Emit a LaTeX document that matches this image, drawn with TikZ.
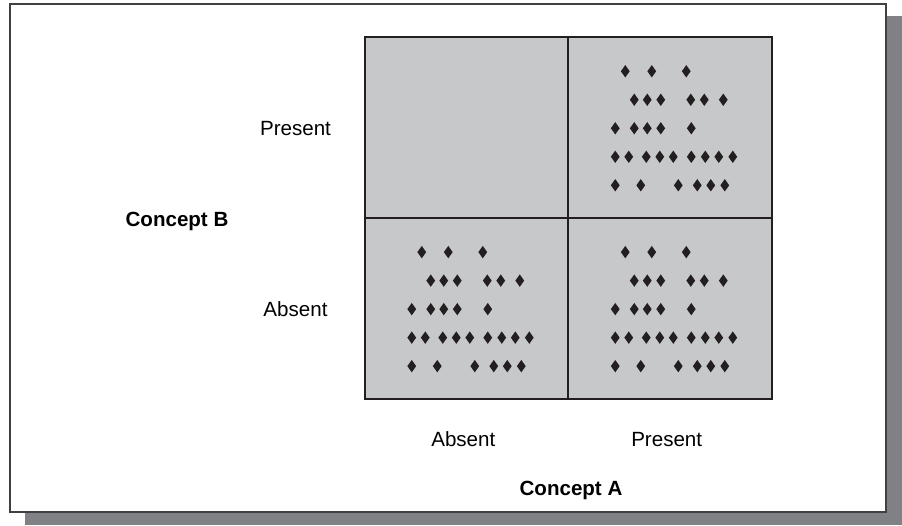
\documentclass[tikz,border=0pt]{standalone}
\usepackage{fontspec}
\setmainfont{Liberation Sans}
\usepackage{tikz}
\definecolor{cellgray}{RGB}{199,200,202}
\definecolor{shadowgray}{RGB}{128,129,133}
\definecolor{edge}{RGB}{35,31,32}

\begin{document}
\begin{tikzpicture}[
    cell/.style={draw=edge, line width=0.04cm, fill=cellgray, minimum width=4.07cm, minimum height=3.61cm, inner sep=0pt, outer sep=0pt},
    lbl/.style={font=\fontsize{11.7}{14}\selectfont, anchor=base, inner sep=0pt},
    head/.style={lbl, font=\fontsize{11.7}{14}\selectfont\bfseries},
    gem/.style={fill=edge}]
    \useasboundingbox (0,0) rectangle (18.04,-10.5);
    \fill[shadowgray] (0.5,-0.32) rectangle (18.04,-10.5);
    \draw[black!75, line width=0.04cm, fill=white] (0.2,-0.08) rectangle (17.72,-10.24);
    \node[cell] at (9.33,-2.55) (ap) {};
    \node[cell] at (13.40,-2.55) (pp) {};
    \node[cell] at (9.33,-6.167) (aa) {};
    \node[cell] at (13.40,-6.167) (pa) {};
    \node[lbl] at (5.91,-2.714) (bp) {Present};
    \node[lbl] at (5.91,-6.328) (ba) {Absent};
    \node[head] at (3.54,-4.53) (b) {Concept B};
    \node[lbl] at (9.266,-8.928) (aabs) {Absent};
    \node[lbl] at (13.334,-8.928) (apres) {Present};
    \node[head] at (11.42,-9.90) (a) {Concept A};
    \foreach \c in {pp,aa,pa}
      \foreach \dy/\row in {34/{57,83.5,118}, 62.5/{66,79,92.5,122.5,136,155}, 91/{47,66,79,92.5,123}, 119.5/{47,60.5,78,91.5,105,123,137,150.5,164.5}, 148/{47,72.5,110,129,142.5,156.5}}
        \foreach \dx in \row
          \fill[gem, shift={(\c.north west)}, x=0.02cm, y=-0.02cm] (\dx,\dy) +(0,-6.2) -- +(4.4,0) -- +(0,6.2) -- +(-4.4,0) -- cycle;
\end{tikzpicture}
\end{document}
